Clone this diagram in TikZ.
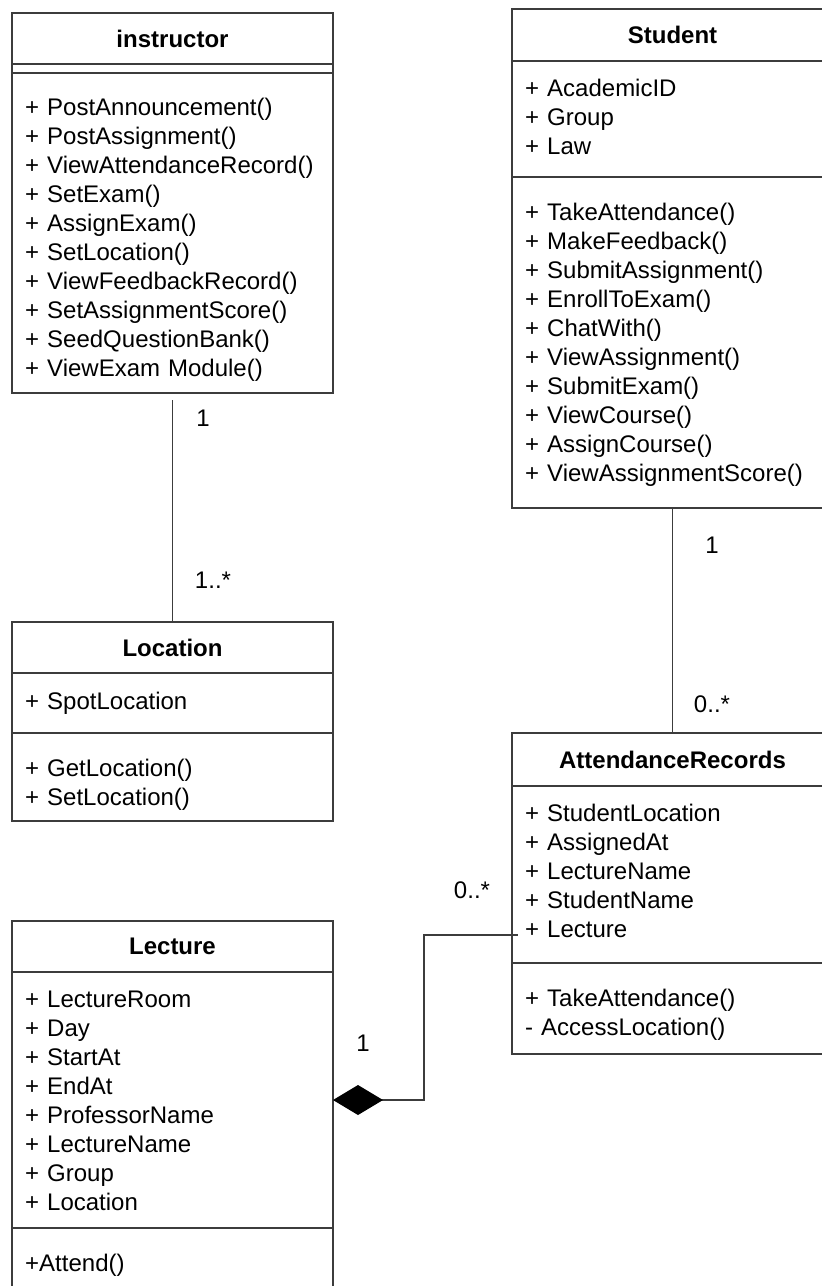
\documentclass[tikz,border=0pt]{standalone}
\usepackage{fontspec}
\setmainfont{Liberation Sans}
\usepackage{tikz}
\usetikzlibrary{arrows.meta,positioning,calc}
\definecolor{umlline}{RGB}{60,60,60}
\tikzset{
  clsname/.style={draw=umlline, line width=1.8pt, minimum width=321pt,
                  minimum height=#1, inner sep=0pt, outer sep=0pt,
                  font=\fontsize{24}{29}\selectfont\bfseries},
  clspart/.style={draw=umlline, line width=1.8pt, minimum width=321pt,
                  minimum height=#1, inner sep=0pt, outer sep=0pt},
  clstext/.style={anchor=base west, align=left, text width=305pt,
                  inner sep=0pt, font=\fontsize{24}{29}\selectfont},
  mult/.style   ={inner sep=0pt, font=\fontsize{24}{29}\selectfont},
  assoc/.style  ={draw=umlline, line width=1.6pt},
  comp/.style   ={assoc, {Diamond[length=50pt,width=30pt,color=black]}-},
}
\begin{document}
\begin{tikzpicture}[x=1pt,y=-1pt]
  \useasboundingbox (0,0) rectangle (822,1286);
  \clip (0,0) rectangle (822,1286);
  %% instructor
  \node[clsname=51pt, anchor=north west] (ititle) at (12,13) {instructor};
  \node[clspart=9pt, below=0pt of ititle] (iattr) {};
  \node[clspart=320pt, below=0pt of iattr] (imeth) {};
  \node[clstext] (imtext) at (25,115) {+ PostAnnouncement()\\+ PostAssignment()\\+ ViewAttendanceRecord()\\+ SetExam()\\+ AssignExam()\\+ SetLocation()\\+ ViewFeedbackRecord()\\+ SetAssignmentScore()\\+ SeedQuestionBank()\\+ ViewExam Module()};
  %% Student
  \node[clsname=52pt, anchor=north west] (stitle) at (512,9) {Student};
  \node[clspart=116pt, below=0pt of stitle] (sattr) {};
  \node[clspart=331pt, below=0pt of sattr] (smeth) {};
  \node[clstext] (satext) at (525,96) {+ AcademicID\\+ Group\\+ Law};
  \node[clstext] (smtext) at (525,220) {+ TakeAttendance()\\+ MakeFeedback()\\+ SubmitAssignment()\\+ EnrollToExam()\\+ ChatWith()\\+ ViewAssignment()\\+ SubmitExam()\\+ ViewCourse()\\+ AssignCourse()\\+ ViewAssignmentScore()};
  %% Location
  \node[clsname=51pt, anchor=north west] (ltitle) at (12,622) {Location};
  \node[clspart=60pt, below=0pt of ltitle] (lattr) {};
  \node[clspart=88pt, below=0pt of lattr] (lmeth) {};
  \node[clstext] (latext) at (25,709) {+ SpotLocation};
  \node[clstext] (lmtext) at (25,776) {+ GetLocation()\\+ SetLocation()};
  %% AttendanceRecords
  \node[clsname=53pt, anchor=north west] (artitle) at (512,733) {AttendanceRecords};
  \node[clspart=177pt, below=0pt of artitle] (arattr) {};
  \node[clspart=91pt, below=0pt of arattr] (armeth) {};
  \node[clstext] (aratext) at (525,821) {+ StudentLocation\\+ AssignedAt\\+ LectureName\\+ StudentName\\+ Lecture};
  \node[clstext] (armtext) at (525,1006) {+ TakeAttendance()\\- AccessLocation()};
  %% Lecture
  \node[clsname=51pt, anchor=north west] (lectitle) at (12,921) {Lecture};
  \node[clspart=256pt, below=0pt of lectitle] (lecattr) {};
  \node[clspart=90pt, below=0pt of lecattr] (lecmeth) {};
  \node[clstext] (lecatext) at (25,1007) {+ LectureRoom\\+ Day\\+ StartAt\\+ EndAt\\+ ProfessorName\\+ LectureName\\+ Group\\+ Location};
  \node[clstext] (lecmtext) at (25,1271) {+Attend()};
  %% associations
  \draw[assoc, shorten <=7pt] (imeth.south) -- (ltitle.north);
  \node[mult] (im1) at (203,418) {1};
  \node[mult] (lm1) at (213,580) {1..*};
  \draw[assoc] (smeth.south) -- (artitle.north);
  \node[mult] (sm1) at (712,545) {1};
  \node[mult] (arm1) at (712,704) {0..*};
  \coordinate (arlec) at (518,935);
  \draw[comp] (lecattr.east) -- ++(91,0) |- (arlec);
  \node[mult] (lecm1) at (363,1043) {1};
  \node[mult] (arm2) at (472,890) {0..*};
\end{tikzpicture}
\end{document}
